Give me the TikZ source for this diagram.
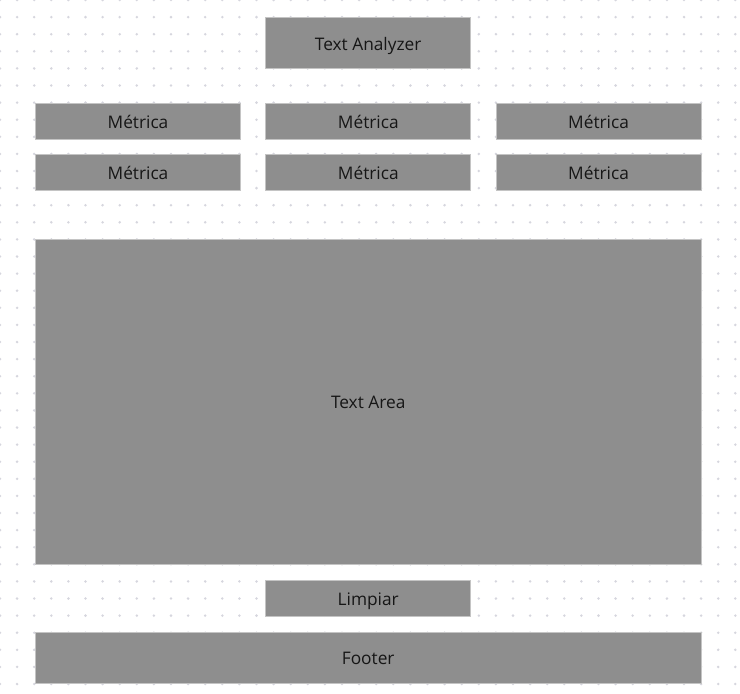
\documentclass[tikz,border=0pt]{standalone}
\usepackage{fontspec}
\setmainfont{Open Sans}
\usepackage{xcolor}
\usepackage{tikz}
\usetikzlibrary{positioning}
\definecolor{boxGrey}{HTML}{8E8E8E}
\definecolor{edgeGrey}{HTML}{C4C4C4}
\definecolor{dotGrey}{HTML}{D6D6DE}
\definecolor{inkDark}{HTML}{161616}
\tikzset{
  panel/.style  = {draw=edgeGrey, line width=0.8pt, fill=boxGrey, text=inkDark,
                   font=\fontsize{17.3}{20}\selectfont, inner sep=0pt,
                   text height=14.4pt, text depth=0pt, minimum width=205pt},
  wide/.style   = {minimum width=665.7pt},
  slim/.style   = {minimum height=35.7pt},
  tall/.style   = {minimum height=51.4pt},
  griddot/.style= {fill=dotGrey}
}

\begin{document}
\begin{tikzpicture}[x=1pt, y=-1pt, node distance=24.5pt]
  \useasboundingbox (0,0) rectangle (740,694);
  % dotted background
  \foreach \i in {0,...,43}
    \foreach \j in {0,...,40}
      \fill[griddot] (\i*17.1,\j*17.1) circle (1.4pt);

  \node[panel, tall] (title) at (368.2,43) {Text Analyzer};

  \node[panel, slim] (m1) at (138,121.2) {Métrica};
  \node[panel, slim, right=of m1] (m2) {Métrica};
  \node[panel, slim, right=of m2] (m3) {Métrica};
  \node[panel, slim, below=14.5pt of m1] (m4) {Métrica};
  \node[panel, slim, below=14.5pt of m2] (m5) {Métrica};
  \node[panel, slim, below=14.5pt of m3] (m6) {Métrica};

  \node[panel, wide, minimum height=325pt] (area) at (368.2,401.5) {Text Area};
  \node[panel, minimum height=36pt] (clear) at (368.2,598) {Limpiar};
  \node[panel, wide, minimum height=51pt] (footer) at (368.2,657.5) {Footer};
\end{tikzpicture}
\end{document}
